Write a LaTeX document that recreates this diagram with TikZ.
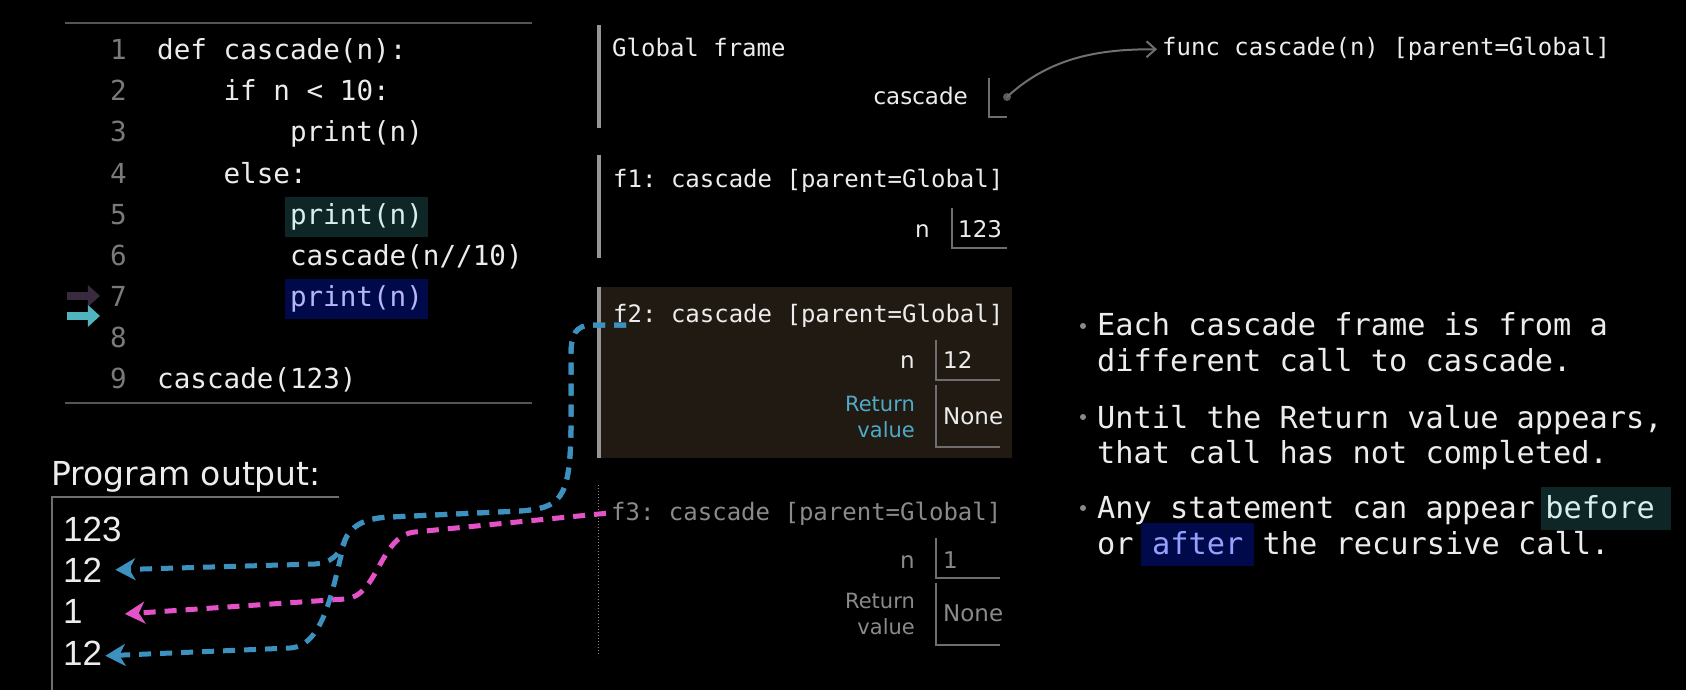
\documentclass[tikz,border=0pt]{standalone}
\usepackage{fontspec}
\setmainfont{DejaVu Sans}
\setmonofont{DejaVu Sans Mono}
\newfontfamily\outputfont{Liberation Sans}
\usepackage{tikz}
\usetikzlibrary{positioning}
\usetikzlibrary{arrows.meta}

\definecolor{codewhite}{RGB}{236,236,236}
\definecolor{linegray}{RGB}{122,122,122}
\definecolor{rulegray}{RGB}{85,85,85}
\definecolor{bargray}{RGB}{150,150,150}
\definecolor{boxgray}{RGB}{110,110,110}
\definecolor{dimgray}{RGB}{138,138,138}
\definecolor{hlteal}{RGB}{14,38,38}
\definecolor{hlnavy}{RGB}{0,10,74}
\definecolor{nexttext}{RGB}{216,238,238}
\definecolor{curtext}{RGB}{180,182,245}
\definecolor{aftertext}{RGB}{150,160,255}
\definecolor{retteal}{RGB}{78,170,198}
\definecolor{activebg}{RGB}{32,26,18}
\definecolor{prevpurple}{RGB}{58,42,64}
\definecolor{curteal}{RGB}{80,180,190}
\definecolor{callblue}{RGB}{60,145,190}
\definecolor{callpink}{RGB}{228,82,200}
\definecolor{ptrgray}{RGB}{112,112,112}

\begin{document}
\begin{tikzpicture}[x=1pt, y=-1pt,
			codeline/.style={anchor=base west, inner xsep=5pt, inner ysep=5pt, text height=22pt, text depth=8pt, font=\ttfamily\fontsize{27.6pt}{33pt}\selectfont, text=codewhite},
			hlnext/.style={codeline, fill=hlteal, text=nexttext},
			hlcur/.style={codeline, fill=hlnavy, text=curtext},
			lineno/.style={anchor=base east, inner sep=0pt, font=\ttfamily\fontsize{27.6pt}{33pt}\selectfont, text=linegray},
			framelabel/.style={anchor=base west, inner sep=0pt, font=\ttfamily\fontsize{24pt}{28pt}\selectfont, text=codewhite},
			varname/.style={anchor=base east, inner sep=0pt, font=\fontsize{23pt}{27pt}\selectfont, text=codewhite},
			varval/.style={anchor=base west, inner sep=0pt, font=\fontsize{23pt}{27pt}\selectfont, text=codewhite},
			retlabel/.style={anchor=east, inner sep=0pt, align=right, font=\fontsize{21pt}{25.5pt}\selectfont, text=retteal},
			framebar/.style={draw=bargray, line width=4pt},
			boxline/.style={draw=boxgray, line width=1.5pt},
			outnum/.style={anchor=base west, inner sep=0pt, font=\outputfont\fontsize{35pt}{40pt}\selectfont, text=codewhite},
			bullettext/.style={anchor=base west, inner sep=0pt, font=\ttfamily\fontsize{30.3pt}{36pt}\selectfont, text=codewhite},
			hlword/.style={bullettext, inner ysep=5pt, text height=26pt, text depth=7pt},
			bulletdot/.style={circle, fill=dimgray, inner sep=0pt, minimum size=6pt},
			linemark/.style={line width=8pt, -{Triangle[length=12pt,width=21pt]}},
			callpath/.style={line width=5pt, dash pattern=on 12pt off 9pt, -{Stealth[length=20pt,width=22pt,inset=6pt]}}
			]
			
			\fill[black] (0,0) rectangle (1686,690);
			\useasboundingbox (0,0) rectangle (1686,690);
			
			% code panel
			\draw[rulegray, line width=2pt] (65,23) -- (532,23);
			\draw[rulegray, line width=2pt] (65,403) -- (532,403);
			\foreach \n/\ind/\txt/\sty in {1/0/{def cascade(n):}/codeline, 2/4/{if n < 10:}/codeline, 3/8/{print(n)}/codeline, 4/4/{else:}/codeline, 5/8/{print(n)}/hlnext, 6/8/{cascade(n//10)}/codeline, 7/8/{print(n)}/hlcur, 8/0/{}/codeline, 9/0/{cascade(123)}/codeline}{
				\node[lineno] (ln\n) at (127, {60+41*(\n-1)}) {\n};
				\node[\sty] (c\n) at ({152+16.6*\ind}, {60+41*(\n-1)}) {\txt};
			}
			\draw[linemark, prevpurple] ([xshift=-43pt]ln7.west) -- ([xshift=-10pt]ln7.west);
			\draw[linemark, curteal] ([xshift=-43pt, yshift=-20pt]ln7.west) -- ([xshift=-10pt, yshift=-20pt]ln7.west);
			
			% program output
			\node[anchor=base west, inner sep=0pt, font=\fontsize{33pt}{38pt}\selectfont, text=codewhite] (outlabel) at (51,485) {Program output:};
			\draw[boxgray, line width=2pt] (339,497) -- (52,497) -- (52,690);
			\node[outnum] (o1) at (63,541) {123};
			\node[outnum] (o2) at (63,582) {12};
			\node[outnum] (o3) at (63,623) {1};
			\node[outnum] (o4) at (63,665) {12};
			
			% frames
			\fill[activebg] (598,287) rectangle (1012,458);
			\draw[framebar] (599,25) -- (599,128);
			\draw[framebar] (599,155) -- (599,258);
			\draw[framebar] (599,287) -- (599,458);
			\draw[dimgray, line width=1pt, dotted] (598,485) -- (598,656);
			
			\node[framelabel] (global) at (612,57) {Global frame};
			\node[varname] (gname) at (968,105) {cascade};
			\draw[boxline] (989,78) -- (989,117) -- (1007,117);
			\node[circle, fill=ptrgray!80!black, inner sep=0pt, minimum size=8pt] (gptr) at (1007,97) {};
			\node[framelabel] (funcobj) at (1162,56) {func cascade(n) [parent=Global]};
			\draw[ptrgray, line width=2pt, -{Straight Barb[length=9pt,width=16pt]}] (gptr.center) .. controls (1050,57) and (1100,49) .. ([xshift=-5pt]funcobj.west);
			
			\node[framelabel] (f1) at (613,187) {f1: cascade [parent=Global]};
			\node[varname] (f1n) at (930,237) {n};
			\node[varval] (f1v) at (958,237) {123};
			\draw[boxline] (952,208) -- (952,248) -- (1007,248);
			
			\node[framelabel] (f2) at (613,322) {f2: cascade [parent=Global]};
			\node[varname] (f2n) at (915,368) {n};
			\node[varval] (f2v) at (943,368) {12};
			\draw[boxline] (936,340) -- (936,380) -- (1000,380);
			\node[retlabel] (f2r) at (915,417) {Return\\value};
			\node[varval] (f2rv) at (943,424) {None};
			\draw[boxline] (936,385) -- (936,447) -- (1000,447);
			
			\node[framelabel, text=dimgray] (f3) at (611,520) {f3: cascade [parent=Global]};
			\node[varname, text=dimgray] (f3n) at (915,568) {n};
			\node[varval, text=dimgray] (f3v) at (943,568) {1};
			\draw[boxline] (936,538) -- (936,578) -- (1000,578);
			\node[retlabel, text=dimgray] (f3r) at (915,614) {Return\\value};
			\node[varval, text=dimgray] (f3rv) at (943,621) {None};
			\draw[boxline] (936,583) -- (936,645) -- (1000,645);
			
			% calls to output
			\draw[callpath, callblue] ([xshift=13pt, yshift=-3pt]f2.base west) -- (593,325) .. controls (575,325) and (571,335) .. (571,355) -- (571,430) .. controls (570,500) and (560,508) .. (520,511) -- (390,517) .. controls (362,518) and (350,528) .. (345,540) .. controls (339,556) and (330,563) .. (315,564) -- ([xshift=13pt]o2.east);
			\draw[callpath, callblue] ([xshift=13pt, yshift=-3pt]f2.base west) -- (593,325) .. controls (575,325) and (571,335) .. (571,355) -- (571,430) .. controls (570,500) and (560,508) .. (520,511) -- (390,517) .. controls (362,518) and (350,528) .. (345,540) .. controls (333,585) and (325,646) .. (290,648) -- ([xshift=3pt, yshift=-3pt]o4.east);
			\draw[callpath, callpink] ([xshift=-5pt]f3.west) -- (415,532) .. controls (380,535) and (378,597) .. (345,599) -- ([xshift=42pt, yshift=-3pt]o3.east);
			
			% notes
			\node[bulletdot] (d1) at (1083,326) {};
			\node[bulletdot] (d2) at (1083,417) {};
			\node[bulletdot] (d3) at (1083,508) {};
			\node[bullettext] (b1a) at (1097,335) {Each cascade frame is from a};
			\node[bullettext] (b1b) at (1097,371) {different call to cascade.};
			\node[bullettext] (b2a) at (1097,428) {Until the Return value appears,};
			\node[bullettext] (b2b) at (1097,463) {that call has not completed.};
			\node[bullettext] (b3a) at (1097,518) {Any statement can appear};
			\node[hlword, anchor=base west, inner xsep=4pt, fill=hlteal, text=nexttext] (before) at ([xshift=6pt]b3a.base east) {before\hspace*{12pt}};
			\node[bullettext] (b3b) at (1097,554) {or};
			\node[hlword, anchor=base west, inner xsep=11pt, fill=hlnavy, text=aftertext] (after) at ([xshift=7pt]b3b.base east) {after};
			\node[bullettext] (b3c) at ([xshift=8pt]after.base east) {the recursive call.};
		\end{tikzpicture}
\end{document}
